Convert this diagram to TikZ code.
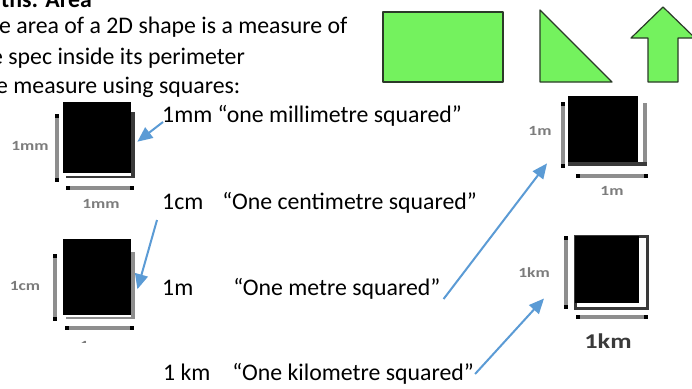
\documentclass[tikz,border=0pt]{standalone}
\usepackage{fontspec}
\setmainfont{Carlito}
\usetikzlibrary{arrows.meta,positioning,calc}
\definecolor{office}{HTML}{5B9BD5}
\definecolor{leaf}{HTML}{74F25E}
\definecolor{rim}{HTML}{2B3A28}
\definecolor{smudge}{HTML}{7C7C7C}
\definecolor{bar}{HTML}{8E8E8E}
\definecolor{edge}{HTML}{3A3A3A}
\newcommand{\measure}[2]{%
  \draw[dimline] #1 -- #2;
  \fill[black] #1 ++(-2.3,-2.3) rectangle ++(4.6,4.6);
  \fill[black] #2 ++(-2.3,-2.3) rectangle ++(4.6,4.6);}
\tikzset{
  txt/.style={inner sep=0pt, anchor=base west, font=\fontsize{23.8}{29}\selectfont},
  unit/.style={inner sep=0pt, font=\fontsize{14}{14}\selectfont\bfseries, text=smudge, xscale=1.25},
  blacksq/.style={rectangle, fill=black, inner sep=0pt, anchor=north west},
  shape2d/.style={fill=leaf, draw=rim, line width=1.2pt, line join=round},
  dimline/.style={draw=bar, line width=3.6pt},
  flow/.style={-{Triangle[length=15pt, width=13pt]}, draw=office, line width=2pt},
}
\begin{document}
\begin{tikzpicture}[x=1pt, y=-1pt]
\useasboundingbox (0,0) rectangle (692,388);
\fill[white] (0,0) rectangle (692,388);
\clip (0,0) rectangle (692,388);

\node[txt, font=\fontsize{23.8}{29}\selectfont\bfseries] (title) at (1,7) {ths: Area};
\node[txt] (line1) at (-1,33) {e area of a 2D shape is a measure of};
\node[txt] (line2) at (-9,64) {e spec inside its perimeter};
\node[txt] (line3) at (-4,93) {e measure using squares:};

\draw[shape2d] (383,12) rectangle (503,82);
\draw[shape2d] (540,10) -- (612,82) -- (540,82) -- cycle;
\draw[shape2d] (663,7) -- (695,38) -- (678,38) -- (678,82) -- (648,82) -- (648,38) -- (631,38) -- cycle;

% left squares
\node[blacksq, minimum width=68pt, minimum height=71pt] (sq1) at (63,102) {};
\fill[edge] (131,112) rectangle (135,178);
\fill[edge] (66,176) rectangle (135,178);
\measure{(57,116)}{(57,180)}
\measure{(68,188)}{(132,188)}
\node[unit] (u1) at (30,146) {1mm};
\node[unit] (u2) at (101,204) {1mm};

\node[blacksq, minimum width=68pt, minimum height=76pt] (sq2) at (63,239) {};
\fill[bar] (131,252) rectangle (135,319);
\fill[bar] (66,317) rectangle (135,319);
\measure{(55,256)}{(55,319)}
\measure{(67,328)}{(132,328)}
\node[unit] (u3) at (25,286) {1cm};
\begin{scope}
\clip (60,332) rectangle (130,342);
\node[unit] (u4) at (95,346) {1cm};
\end{scope}

% right squares
\node[blacksq, minimum width=70pt, minimum height=66pt] (sq3) at (568,96) {};
\fill[bar] (643,103) rectangle (647,163);
\fill[edge] (568,162) rectangle (647,166);
\measure{(563,104)}{(563,166)}
\measure{(578,176)}{(646,176)}
\node[unit] (u5) at (540,131) {1m};
\node[unit] (u6) at (612,191) {1m};

\node[blacksq, fill=white, draw=edge, line width=2.5pt, minimum width=72pt, minimum height=72pt] (sq4) at (574,235) {};
\fill[black] (575,236) rectangle (639,303);
\measure{(566,238)}{(566,307)}
\measure{(578,317)}{(646,317)}
\node[unit] (u7) at (534,273) {1km};
\node[unit, font=\fontsize{21}{21}\selectfont\bfseries, text=edge, xscale=1] (u8) at (608,341) {1km};

\node[txt] (lab1) at (162,122) {1mm “one millimetre squared”};
\node[txt] (lab2) at (162,209) {1cm\hspace{19pt}“One centimetre squared”};
\node[txt] (lab3) at (162,295) {1m\hspace{40pt}“One metre squared”};
\node[txt] (lab4) at (163,380) {1 km\hspace{22pt}“One kilometre squared”};

\draw[flow] ([shift={(1,0)}]lab1.base west) -- ([shift={(6,4)}]sq1.east);
\draw[flow] ([shift={(-5,11)}]lab2.base west) -- ([shift={(6,12)}]sq2.east);
\draw[flow] ([shift={(3,4)}]lab3.base east) -- ([shift={(-21,1)}]sq3.south west);
\draw[flow] ([shift={(1,-6)}]lab4.base east) -- ([shift={(-30,-11)}]sq4.south west);
\end{tikzpicture}
\end{document}
